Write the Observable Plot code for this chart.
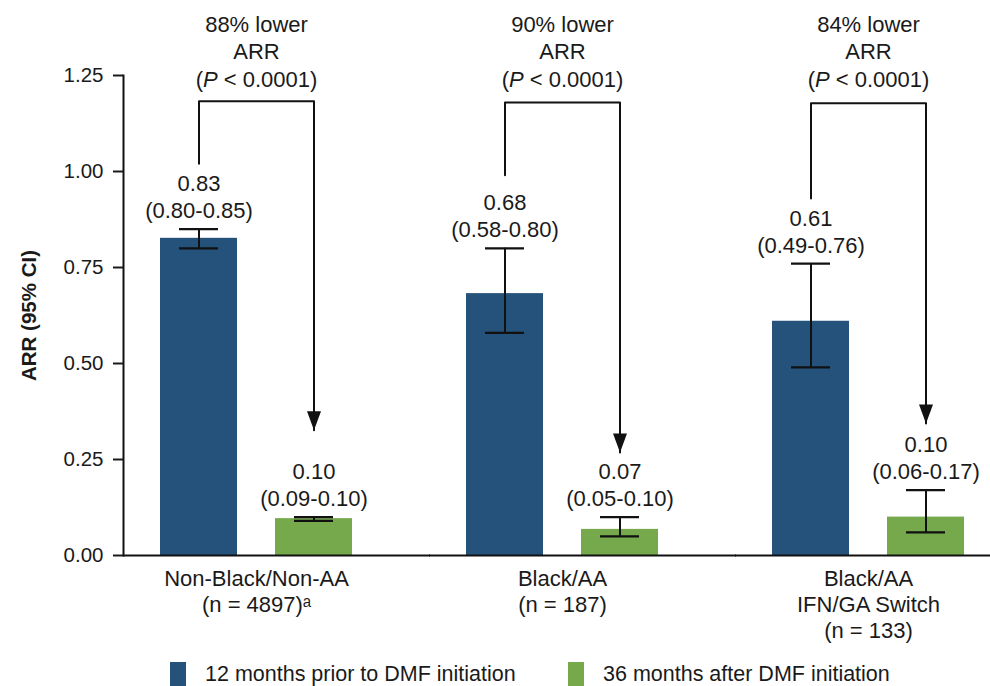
<!DOCTYPE html>
<html><head><meta charset="utf-8">
<script src="https://cdn.jsdelivr.net/npm/d3@7"></script>
<script src="https://cdn.jsdelivr.net/npm/@observablehq/plot@0.6"></script>
<style>
body{margin:0;background:#fff;font-family:"Liberation Sans",Arial,sans-serif;}
#chart{width:990px;height:686px;position:relative;overflow:hidden}
#chart svg{display:block}
.legend{position:absolute;top:661px;left:0;width:990px;height:26px;font-size:21.5px;color:#1a1a1a}
.legend .item{position:absolute;top:0;display:flex;align-items:center;height:26px;white-space:nowrap}
.legend .sw{width:16px;height:25px;margin-right:19px}
g[aria-label="y-axis label"] text{font-weight:bold}
</style></head><body>
<div id="chart"></div>
<script>
// ---- data ----
const groups = ["Non-Black/Non-AA\n(n = 4897)ᵃ", "Black/AA\n(n = 187)", "Black/AA\nIFN/GA Switch\n(n = 133)"];
const periods = ["12 months prior to DMF initiation", "36 months after DMF initiation"];
const arrBefore = [0.826, 0.682, 0.61];
const arrBeforeLabel = ["0.83", "0.68", "0.61"];
const ciBeforeLow = [0.80, 0.58, 0.49];
const ciBeforeHigh = [0.85, 0.80, 0.76];
const arrAfter = [0.096, 0.068, 0.10];
const arrAfterLabel = ["0.10", "0.07", "0.10"];
const ciAfterLow = [0.09, 0.05, 0.06];
const ciAfterHigh = [0.10, 0.10, 0.17];
const reductionText = ["88% lower", "90% lower", "84% lower"];
const pText = "(P < 0.0001)";
const bracketStart = [1.02, 0.99, 0.93];
const bracketTop = [1.183, 1.18, 1.178];
const arrowTip = [0.326, 0.268, 0.344];
const yTicks = [0, 0.25, 0.5, 0.75, 1.0, 1.25];
const colors = ["#24527a", "#76a84c"];

// ---- tables ----
const fmt = d3.format(".2f");
const rows = [];
groups.forEach((g, i) => {
  rows.push({group: g, period: periods[0], value: arrBefore[i], lo: ciBeforeLow[i], hi: ciBeforeHigh[i],
    label: `${arrBeforeLabel[i]}\n(${fmt(ciBeforeLow[i])}-${fmt(ciBeforeHigh[i])})`});
  rows.push({group: g, period: periods[1], value: arrAfter[i], lo: ciAfterLow[i], hi: ciAfterHigh[i],
    label: `${arrAfterLabel[i]}\n(${fmt(ciAfterLow[i])}-${fmt(ciAfterHigh[i])})`});
});
const bracketPts = [];
groups.forEach((g, i) => {
  bracketPts.push({group: g, period: periods[0], y: bracketStart[i]});
  bracketPts.push({group: g, period: periods[0], y: bracketTop[i]});
  bracketPts.push({group: g, period: periods[1], y: bracketTop[i]});
  bracketPts.push({group: g, period: periods[1], y: arrowTip[i]});
});
const tips = groups.map((g, i) => ({group: g, period: periods[1], y: arrowTip[i]}));
const ann = groups.map((g, i) => ({group: g, t: `${reductionText[i]}\nARR\n${pText}`}));

const arrowHead = {draw(ctx) { ctx.moveTo(0, 0); ctx.lineTo(-7, -19); ctx.lineTo(7, -19); ctx.closePath(); }};

const plot = Plot.plot({
  width: 990, height: 650,
  marginLeft: 123, marginRight: 0, marginTop: 75, marginBottom: 95,
  style: {fontFamily: "'Liberation Sans', Arial, sans-serif", fontSize: "20px", color: "#1a1a1a", background: "#fff"},
  fx: {domain: groups, range: [123, 1001], paddingInner: 0.131, paddingOuter: 0, label: null},
  x: {domain: periods, paddingInner: 0.33, paddingOuter: 0.32, axis: null},
  y: {domain: [0, 1.25], label: "ARR (95% CI)"},
  color: {domain: periods, range: colors},
  marks: [
    Plot.barY(rows, {fx: "group", x: "period", y: "value", fill: "period"}),
    Plot.ruleX(rows, {fx: "group", x: "period", y1: "lo", y2: "hi", stroke: "#111", strokeWidth: 2}),
    Plot.tickY(rows, {fx: "group", x: "period", y: "lo", stroke: "#111", strokeWidth: 2.2, insetLeft: 19, insetRight: 19}),
    Plot.tickY(rows, {fx: "group", x: "period", y: "hi", stroke: "#111", strokeWidth: 2.2, insetLeft: 19, insetRight: 19}),
    Plot.text(rows, {fx: "group", x: "period", y: "hi", text: "label", lineAnchor: "bottom", dy: -11, fontSize: 22, lineHeight: 1.23, fill: "#1a1a1a"}),
    Plot.line(bracketPts, {fx: "group", x: "period", y: "y", z: "group", stroke: "#111", strokeWidth: 2, curve: "linear"}),
    Plot.dot(tips, {fx: "group", x: "period", y: "y", symbol: arrowHead, fill: "#111", stroke: null}),
    Plot.text(ann, {fx: "group", text: "t", frameAnchor: "top", lineAnchor: "middle", dy: -25, fontSize: 22, lineHeight: 1.25, fill: "#1a1a1a"}),
    Plot.ruleY([0], {stroke: "#111", strokeWidth: 2, insetRight: -41}),
    Plot.frame({anchor: "left", facetAnchor: "left", stroke: "#111", strokeWidth: 2}),
    Plot.axisY({ticks: yTicks, tickSize: 10, tickPadding: 10, tickFormat: fmt, fontSize: 20.5, strokeWidth: 2,
      label: "ARR (95% CI)", labelAnchor: "center", labelArrow: "none", labelOffset: 102}),
    Plot.axisFx({anchor: "bottom", tickSize: 0, tickPadding: 12, fontSize: 22, lineHeight: 1.18, label: null})
  ]
});

// italic P
const NS = "http://www.w3.org/2000/svg";
plot.querySelectorAll("text, tspan").forEach(el => {
  if (el.childElementCount === 0 && el.textContent === pText) {
    el.textContent = "";
    const a = document.createElementNS(NS, "tspan"); a.textContent = "(";
    const b = document.createElementNS(NS, "tspan"); b.textContent = "P"; b.setAttribute("font-style", "italic");
    const c = document.createElementNS(NS, "tspan"); c.textContent = " < 0.0001)";
    el.append(a, b, c);
  }
});

const chart = document.getElementById("chart");
chart.append(plot);
const legend = document.createElement("div");
legend.className = "legend";
const lefts = [170, 568];
periods.forEach((p, i) => {
  const it = document.createElement("div");
  it.className = "item";
  it.style.left = lefts[i] + "px";
  const sw = document.createElement("span");
  sw.className = "sw"; sw.style.background = colors[i];
  const tx = document.createElement("span");
  tx.textContent = p;
  it.append(sw, tx);
  legend.append(it);
});
chart.append(legend);
</script>
</body></html>
